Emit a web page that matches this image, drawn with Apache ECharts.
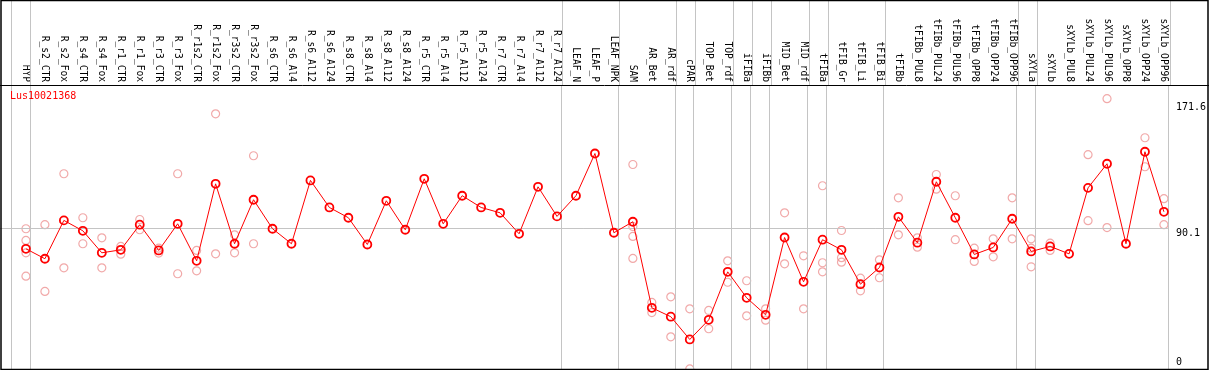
<!DOCTYPE html>
<html>
<head>
<meta charset="utf-8">
<script src="https://cdn.jsdelivr.net/npm/echarts@6/dist/echarts.min.js"></script>
<style>
html,body{margin:0;padding:0;background:#fff;}
#chart{width:1209px;height:370px;}
</style>
</head>
<body>
<div id="chart"></div>
<script>
const geneName = 'Lus10021368';
const categories = ['HYP','R_s2_CTR','R_s2_Fox','R_s4_CTR','R_s4_Fox','R_r1_CTR','R_r1_Fox','R_r3_CTR','R_r3_Fox','R_r1s2_CTR','R_r1s2_Fox','R_r3s2_CTR','R_r3s2_Fox','R_s6_CTR','R_s6_Al4','R_s6_Al12','R_s6_Al24','R_s8_CTR','R_s8_Al4','R_s8_Al12','R_s8_Al24','R_r5_CTR','R_r5_Al4','R_r5_Al12','R_r5_Al24','R_r7_CTR','R_r7_Al4','R_r7_Al12','R_r7_Al24','LEAF_N','LEAF_P','LEAF_NPK','SAM','AR_Bet','AR_rdf','cPAR','TOP_Bet','TOP_rdf','iFIBa','iFIBb','MID_Bet','MID_rdf','tFIBa','tFIB_Gr','tFIB_Li','tFIB_Bi','tFIBb','tFIBb_PUL8','tFIBb_PUL24','tFIBb_PUL96','tFIBb_OPP8','tFIBb_OPP24','tFIBb_OPP96','sXYLa','sXYLb','sXYLb_PUL8','sXYLb_PUL24','sXYLb_PUL96','sXYLb_OPP8','sXYLb_OPP24','sXYLb_OPP96'];
const means = [76.5,69.8,95.6,88.6,73.8,75.8,92.7,75.4,93.3,68.4,120.2,79.9,109.5,90.0,79.9,122.5,104.3,97.4,79.4,108.8,89.3,123.6,93.3,112.2,104.3,100.7,86.6,118.2,98.3,112.2,140.6,87.3,94.7,36.8,30.8,15.5,28.7,61.0,43.5,32.1,84.1,54.3,82.6,75.8,52.7,63.9,98.0,80.6,121.6,97.4,72.7,77.4,96.7,74.7,78.1,73.1,117.5,133.7,79.9,141.8,101.4];
const replicates = [
  [90.0,82.1,73.8,58.1],[92.7,47.8],[127.0,63.7],[97.4,79.9],[83.9,63.7],[78.1,72.9],[96.2,89.3],[76.9,73.6],[127.0,59.7],[75.4,61.7],
  [167.3,73.1],[85.9,73.8],[139.1,79.9],[],[],[],[],[],[],[],
  [],[],[],[],[],[],[],[],[],[],
  [],[],[133.2,91.5,84.8,70.0],[40.4,33.6],[44.2,17.3],[36.1,-4.3],[35.0,22.7],[68.4,54.0],[55.0,31.4],[36.1,28.5],
  [100.7,66.4],[71.8,36.1],[118.9,67.1,61.0],[88.8,70.5,67.5],[56.7,48.2],[69.1,57.0],[110.8,85.9],[83.9,77.6],[126.5,116.6],[112.2,82.6],
  [76.9,68.0],[83.2,71.1],[110.8,83.2],[83.2,76.9,64.4],[80.3,75.4],[],[139.8,95.4],[177.5,90.8],[],[151.2,131.7],
  [110.2,92.7]
];
const yTicks = [0, 90.1, 171.6];
const refLine = 90.1;
const groupEnds = [-1,0,28,31,34,35,37,38,39,41,42,45,52,53,60];

const FONT = 'DejaVu Sans Mono';
const X_MIN = -1.368, X_MAX = 60.21;
const Y_MIN = -5.05, Y_MAX = 186.7;
const idx = categories.map((c, i) => i);
const meanData = means.map((v, i) => [i, v]);
const repData = [];
replicates.forEach((arr, i) => arr.forEach(v => repData.push([i, v])));
const vLines = groupEnds.map(b => ({ xAxis: b + 0.21 }));
const gray = '#c4c4c4';

const chart = echarts.init(document.getElementById('chart'), null, { renderer: 'canvas' });
chart.setOption({
  animation: false,
  backgroundColor: '#fff',
  title: {
    text: geneName, left: 10, top: 91, padding: 0,
    textStyle: { color: '#ff0000', fontSize: 10, fontWeight: 'normal', fontFamily: FONT }
  },
  grid: [
    { left: 0, right: 39, top: 85, height: 285 },
    { left: 0, right: 39, top: 0, height: 85 }
  ],
  xAxis: [
    { gridIndex: 0, type: 'value', min: X_MIN, max: X_MAX, show: false },
    { gridIndex: 0, type: 'value', position: 'top', min: X_MIN, max: X_MAX,
      axisLine: { show: false }, axisTick: { show: false }, splitLine: { show: false },
      axisLabel: { customValues: idx, formatter: v => categories[Math.round(v)], rotate: 90, margin: 3,
        fontSize: 9.6, fontFamily: FONT, color: '#000', hideOverlap: false } },
    { gridIndex: 1, type: 'value', min: X_MIN, max: X_MAX, show: false }
  ],
  yAxis: [
    { gridIndex: 0, type: 'value', position: 'right', min: Y_MIN, max: Y_MAX,
      axisLine: { show: false }, axisTick: { show: false }, splitLine: { show: false },
      axisLabel: { customValues: yTicks, margin: 8, fontSize: 10, fontFamily: FONT, color: '#000',
        formatter: v => (Math.abs(v - refLine) < 1e-6 ? '{m|' + v + '}' : String(v)),
        rich: { m: { fontSize: 10, fontFamily: FONT, color: '#000', padding: [9, 0, 0, 0] } } } },
    { gridIndex: 1, type: 'value', min: 0, max: 1, show: false }
  ],
  series: [
    { type: 'line', xAxisIndex: 2, yAxisIndex: 1, data: [], silent: true,
      markLine: { silent: true, symbol: ['none','none'], label: { show: false },
        lineStyle: { color: gray, type: 'solid', width: 1 }, data: vLines } },
    { type: 'line', xAxisIndex: 0, yAxisIndex: 0, data: [], silent: true,
      markLine: { silent: true, symbol: ['none','none'], label: { show: false },
        lineStyle: { color: gray, type: 'solid', width: 1 }, data: vLines.concat([{ yAxis: refLine }]) } },
    { type: 'scatter', xAxisIndex: 0, yAxisIndex: 0, data: repData, symbol: 'circle', symbolSize: 8, z: 3,
      itemStyle: { color: 'rgba(255,255,255,0)', borderColor: '#ee9494', borderWidth: 1.2 } },
    { type: 'line', xAxisIndex: 0, yAxisIndex: 0, data: meanData, symbol: 'circle', symbolSize: 8, z: 5,
      lineStyle: { color: '#ff0000', width: 1 },
      itemStyle: { color: 'rgba(255,0,0,0)', borderColor: '#ff0000', borderWidth: 1.8 } }
  ],
  graphic: [
    { type: 'rect', silent: true, z: 100, shape: { x: 1, y: 0.5, width: 1207, height: 369 },
      style: { fill: 'none', stroke: '#000', lineWidth: 1.5 } },
    { type: 'line', silent: true, z: 100, shape: { x1: 0, y1: 85.5, x2: 1209, y2: 85.5 },
      style: { stroke: '#000', lineWidth: 1 } }
  ]
});
</script>
</body>
</html>
